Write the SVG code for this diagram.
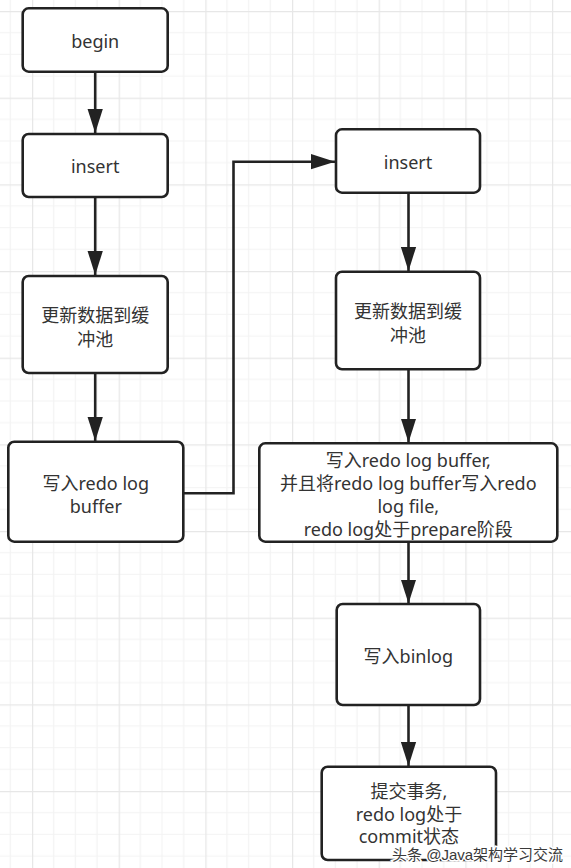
<svg xmlns="http://www.w3.org/2000/svg" width="571" height="868" viewBox="0 0 571 868">
<defs>
<pattern id="grid" patternUnits="userSpaceOnUse" x="32" y="11" width="86.667" height="86.667">
<path d="M21.667 0V86.667M43.333 0V86.667M65 0V86.667M0 21.667H86.667M0 43.333H86.667M0 65H86.667" stroke="#f3f3f3" stroke-width="1.2" fill="none"/>
<path d="M0.6 0V86.667M0 0.6H86.667" stroke="#e7e7e7" stroke-width="1.3" fill="none"/>
</pattern>
<marker id="arr" markerUnits="userSpaceOnUse" markerWidth="24" markerHeight="16" refX="22" refY="7" orient="auto" viewBox="0 0 22 14">
<path d="M0 0L22 7L0 14Z" fill="#222"/>
</marker>
<style>
.box{fill:#fff;stroke:#222;stroke-width:2.6}
.t{font-family:"Noto Sans","Noto Sans CJK SC",sans-serif;font-size:18px;fill:#333;text-anchor:middle}
.c{fill:none;stroke:#222;stroke-width:2.6}
.wm{font-family:"Liberation Sans","Noto Sans CJK SC",sans-serif;font-size:15px;fill:#3a3a3a;stroke:#fff;stroke-width:3;paint-order:stroke}
</style>
</defs>
<rect width="571" height="868" fill="#fff"/>
<rect width="571" height="868" fill="url(#grid)"/>
<g id="connectors">
<path class="c" d="M95.2 71.7V133" marker-end="url(#arr)"/>
<path class="c" d="M95.2 197V275" marker-end="url(#arr)"/>
<path class="c" d="M95.2 373V441" marker-end="url(#arr)"/>
<path class="c" d="M183.3 493.3H233.5V161.7H335" marker-end="url(#arr)"/>
<path class="c" d="M408.5 192.7V271" marker-end="url(#arr)"/>
<path class="c" d="M408.5 369.5V442.5" marker-end="url(#arr)"/>
<path class="c" d="M408.5 541.7V603.5" marker-end="url(#arr)"/>
<path class="c" d="M408.5 705V766" marker-end="url(#arr)"/>
</g>
<g id="begin">
<rect class="box" x="22.7" y="8.3" width="145" height="63.4" rx="6"/>
<text class="t" x="95.2" y="47.5">begin</text>
</g>
<g id="insert1">
<rect class="box" x="22.7" y="134" width="145" height="63" rx="6"/>
<text class="t" x="95.2" y="172.5">insert</text>
</g>
<g id="update1">
<rect class="box" x="22.7" y="276" width="145" height="97" rx="6"/>
<text class="t" x="95.2" y="321.5">更新数据到缓</text>
<text class="t" x="95.2" y="346">冲池</text>
</g>
<g id="redobuf1">
<rect class="box" x="8.3" y="441.7" width="175" height="100" rx="6"/>
<text class="t" x="95.8" y="489.5">写入redo log</text>
<text class="t" x="95.8" y="513">buffer</text>
</g>
<g id="insert2">
<rect class="box" x="336" y="129.3" width="144" height="63.4" rx="6"/>
<text class="t" x="408" y="169">insert</text>
</g>
<g id="update2">
<rect class="box" x="336" y="271.7" width="144" height="97.6" rx="6"/>
<text class="t" x="408" y="318">更新数据到缓</text>
<text class="t" x="408" y="341.5">冲池</text>
</g>
<g id="prepare">
<rect class="box" x="259.3" y="443.3" width="298" height="98.4" rx="6"/>
<text class="t" x="408.3" y="466.5">写入redo log buffer,</text>
<text class="t" x="408.3" y="489.5">并且将redo log buffer写入redo</text>
<text class="t" x="408.3" y="512.5">log file,</text>
<text class="t" x="408.3" y="535.5">redo log处于prepare阶段</text>
</g>
<g id="binlog">
<rect class="box" x="336.7" y="604" width="143.3" height="101" rx="6"/>
<text class="t" x="408.3" y="663">写入binlog</text>
</g>
<g id="commit">
<rect class="box" x="321.7" y="766.7" width="174.3" height="93.3" rx="6"/>
<text class="t" x="408.9" y="798">提交事务,</text>
<text class="t" x="408.9" y="821">redo log处于</text>
<text class="t" x="408.9" y="843">commit状态</text>
</g>
<text class="wm" x="392" y="860">头条 @Java架构学习交流</text>
</svg>
